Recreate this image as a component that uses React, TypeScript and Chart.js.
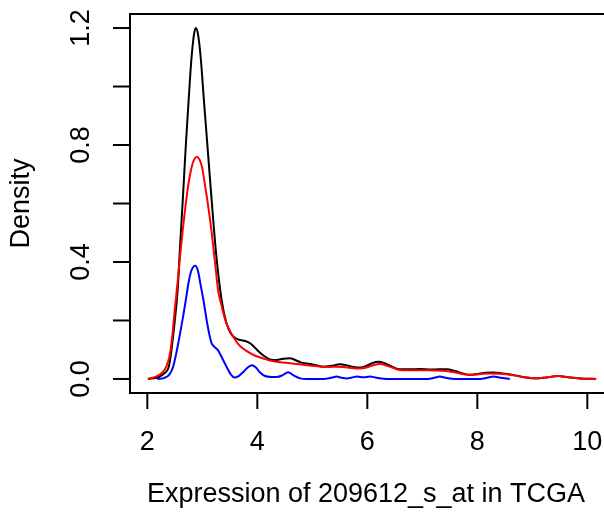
import React, { useEffect, useRef } from "react";
import { Chart, registerables } from "chart.js";

Chart.register(...registerables);

// All samples (black)
const allX = [2.01, 2.1, 2.2, 2.3, 2.4, 2.5, 2.55, 2.6, 2.65, 2.7, 2.75, 2.8, 2.85, 2.88, 2.92, 2.97, 3.03, 3.1, 3.17, 3.25, 3.35, 3.44, 3.52, 3.6, 3.69, 3.78, 3.87, 3.95, 4.05, 4.15, 4.25, 4.35, 4.47, 4.59, 4.7, 4.8, 4.9, 5.05, 5.2, 5.35, 5.5, 5.6, 5.75, 5.87, 6.0, 6.1, 6.2, 6.3, 6.45, 6.59, 6.8, 6.96, 7.15, 7.3, 7.44, 7.6, 7.75, 7.87, 8.0, 8.15, 8.29, 8.45, 8.65, 8.85, 9.08, 9.25, 9.47, 9.65, 9.87, 10.16];
const allY = [0.0, 0.002, 0.006, 0.018, 0.05, 0.2, 0.3, 0.47, 0.63, 0.8, 0.95, 1.09, 1.18, 1.2, 1.18, 1.1, 0.95, 0.78, 0.61, 0.43, 0.27, 0.19, 0.155, 0.14, 0.133, 0.13, 0.122, 0.108, 0.09, 0.075, 0.066, 0.065, 0.069, 0.071, 0.064, 0.056, 0.053, 0.048, 0.042, 0.045, 0.05, 0.048, 0.041, 0.039, 0.046, 0.055, 0.059, 0.055, 0.042, 0.033, 0.033, 0.034, 0.032, 0.033, 0.033, 0.027, 0.018, 0.014, 0.017, 0.021, 0.022, 0.019, 0.014, 0.006, 0.002, 0.005, 0.01, 0.006, 0.002, 0.0];

// Group 1 (red)
const redX = [2.01, 2.1, 2.2, 2.3, 2.35, 2.4, 2.45, 2.5, 2.55, 2.6, 2.65, 2.7, 2.75, 2.8, 2.85, 2.9, 2.95, 3.0, 3.05, 3.1, 3.17, 3.23, 3.29, 3.35, 3.42, 3.5, 3.56, 3.63, 3.69, 3.81, 3.93, 4.11, 4.25, 4.41, 4.6, 4.83, 5.05, 5.32, 5.45, 5.6, 5.75, 5.87, 6.0, 6.12, 6.23, 6.35, 6.45, 6.59, 6.8, 7.0, 7.2, 7.38, 7.55, 7.7, 7.87, 8.05, 8.23, 8.4, 8.65, 8.85, 9.08, 9.25, 9.47, 9.65, 9.87, 10.16];
const redY = [0.001, 0.004, 0.012, 0.028, 0.045, 0.075, 0.14, 0.24, 0.33, 0.43, 0.52, 0.6, 0.67, 0.72, 0.75, 0.76, 0.75, 0.72, 0.66, 0.6, 0.5, 0.4, 0.3, 0.25, 0.2, 0.165, 0.145, 0.125, 0.112, 0.095, 0.082, 0.07, 0.062, 0.057, 0.054, 0.049, 0.044, 0.041, 0.042, 0.04, 0.037, 0.036, 0.04, 0.048, 0.051, 0.046, 0.039, 0.031, 0.03, 0.03, 0.029, 0.028, 0.024, 0.018, 0.014, 0.017, 0.019, 0.018, 0.013, 0.006, 0.003, 0.005, 0.01, 0.006, 0.002, 0.0];

// Group 2 (blue)
const blueX = [2.18, 2.3, 2.4, 2.47, 2.55, 2.6, 2.65, 2.7, 2.75, 2.8, 2.87, 2.92, 2.97, 3.02, 3.08, 3.13, 3.17, 3.22, 3.29, 3.35, 3.44, 3.52, 3.59, 3.66, 3.75, 3.83, 3.9, 3.97, 4.05, 4.14, 4.25, 4.35, 4.45, 4.56, 4.66, 4.78, 4.9, 5.2, 5.35, 5.44, 5.53, 5.63, 5.72, 5.81, 5.93, 6.05, 6.15, 6.3, 6.6, 7.1, 7.22, 7.32, 7.42, 7.6, 8.05, 8.18, 8.29, 8.42, 8.59];
const blueY = [0.0, 0.003, 0.015, 0.042, 0.11, 0.16, 0.213, 0.27, 0.33, 0.37, 0.387, 0.37, 0.32, 0.27, 0.2, 0.15, 0.122, 0.11, 0.097, 0.075, 0.042, 0.015, 0.005, 0.01, 0.025, 0.04, 0.047, 0.04, 0.022, 0.01, 0.007, 0.007, 0.012, 0.023, 0.012, 0.002, 0.0, 0.0, 0.004, 0.008, 0.004, 0.002, 0.005, 0.008, 0.006, 0.008, 0.005, 0.001, 0.0, 0.0, 0.004, 0.008, 0.004, 0.0, 0.0, 0.004, 0.008, 0.004, 0.0];

const xTicks = [2, 4, 6, 8, 10];
const yTicks = [0, 0.2, 0.4, 0.6, 0.8, 1.0, 1.2];
const yTickLabels = ["0.0", "", "0.4", "", "0.8", "", "1.2"];
const xTitle = "Expression of 209612_s_at in TCGA";
const yTitle = "Density";

const FONT = "27px 'Liberation Sans', Arial, sans-serif";

function pts(xs: number[], ys: number[]) {
  return xs.map((x, i) => ({ x, y: ys[i] }));
}

const rAxesPlugin = {
  id: "rAxes",
  afterDraw(chart: any) {
    const { ctx, chartArea } = chart;
    const xs = chart.scales.x;
    const ys = chart.scales.y;
    const { left, right, top, bottom } = chartArea;
    ctx.save();
    ctx.strokeStyle = "#000";
    ctx.fillStyle = "#000";
    ctx.lineWidth = 2;
    ctx.lineCap = "square";
    ctx.strokeRect(left, top, right - left, bottom - top);

    // x axis
    const x0 = xs.getPixelForValue(xTicks[0]);
    const x1 = xs.getPixelForValue(xTicks[xTicks.length - 1]);
    ctx.beginPath();
    ctx.moveTo(x0, bottom);
    ctx.lineTo(x1, bottom);
    ctx.stroke();
    ctx.font = FONT;
    ctx.textAlign = "center";
    ctx.textBaseline = "middle";
    xTicks.forEach((t) => {
      const px = xs.getPixelForValue(t);
      ctx.beginPath();
      ctx.moveTo(px, bottom);
      ctx.lineTo(px, bottom + 15);
      ctx.stroke();
      ctx.fillText(String(t), px, bottom + 50);
    });
    ctx.fillText(xTitle, (left + right) / 2 - 6, bottom + 102);

    // y axis
    const y0 = ys.getPixelForValue(yTicks[0]);
    const y1 = ys.getPixelForValue(yTicks[yTicks.length - 1]);
    ctx.beginPath();
    ctx.moveTo(left, y0);
    ctx.lineTo(left, y1);
    ctx.stroke();
    yTicks.forEach((t, i) => {
      const py = ys.getPixelForValue(t);
      ctx.beginPath();
      ctx.moveTo(left, py);
      ctx.lineTo(left - 16, py);
      ctx.stroke();
      if (yTickLabels[i]) {
        ctx.save();
        ctx.translate(left - 48, py);
        ctx.rotate(-Math.PI / 2);
        ctx.fillText(yTickLabels[i], 0, 0);
        ctx.restore();
      }
    });
    ctx.save();
    ctx.translate(22, (top + bottom) / 2);
    ctx.rotate(-Math.PI / 2);
    ctx.fillText(yTitle, 0, 0);
    ctx.restore();
    ctx.restore();
  },
};

export default function App() {
  const ref = useRef<HTMLCanvasElement | null>(null);
  useEffect(() => {
    document.body.style.margin = "0";
    const canvas = ref.current!;
    const chart = new Chart(canvas, {
      type: "line",
      data: {
        datasets: [
          { label: "all", data: pts(allX, allY), borderColor: "#000000", order: 3 },
          { label: "group1", data: pts(redX, redY), borderColor: "#FF0000", order: 2 },
          { label: "group2", data: pts(blueX, blueY), borderColor: "#0000FF", order: 1 },
        ].map((d) => ({
          ...d,
          borderWidth: 2,
          pointRadius: 0,
          fill: false,
          cubicInterpolationMode: "monotone" as const,
        })),
      },
      options: {
        animation: false,
        responsive: false,
        devicePixelRatio: 1,
        events: [],
        layout: { padding: { left: 130, top: 14, right: 16, bottom: 128 } },
        plugins: { legend: { display: false }, tooltip: { enabled: false } },
        scales: {
          x: { type: "linear", min: 1.685, max: 10.485, display: false },
          y: { type: "linear", min: -0.048, max: 1.248, display: false },
        },
      },
      plugins: [rAxesPlugin],
    });
    return () => chart.destroy();
  }, []);
  return (
    <div style={{ width: 604, height: 521, overflow: "hidden", background: "#fff" }}>
      <canvas ref={ref} width={630} height={521} style={{ display: "block" }} />
    </div>
  );
}
